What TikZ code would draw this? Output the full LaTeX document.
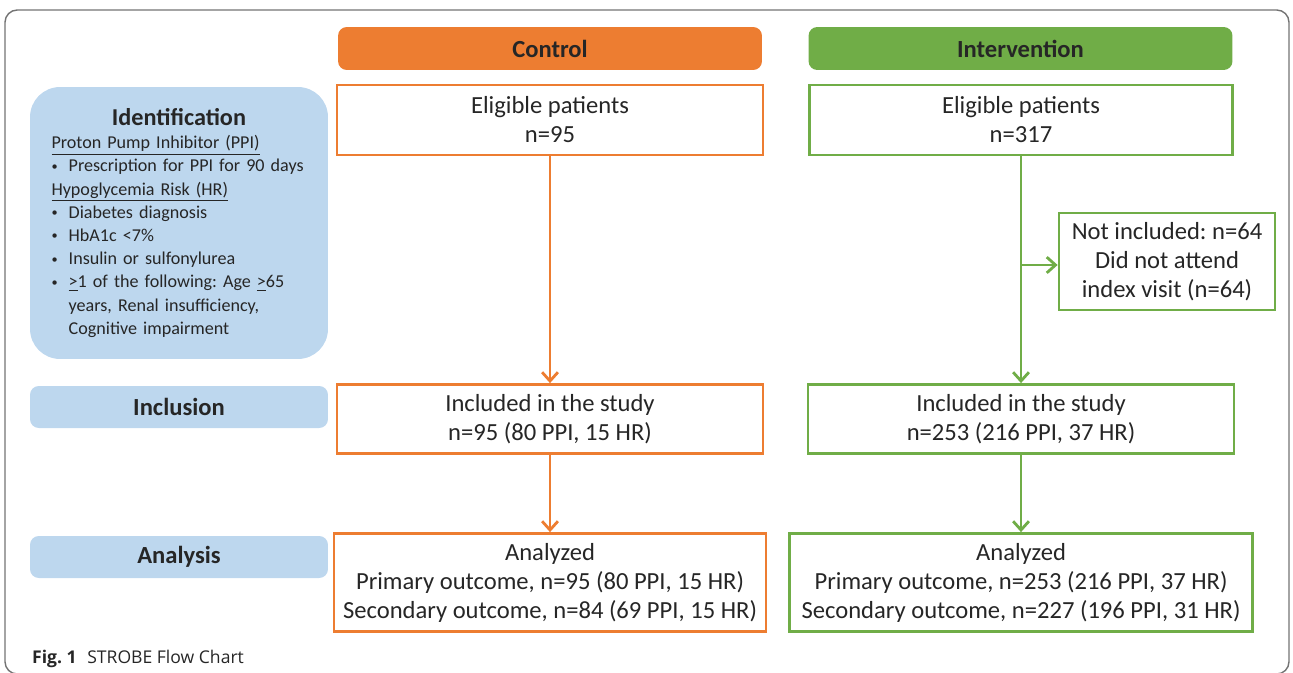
\documentclass[tikz,border=0pt]{standalone}
\usepackage{fontspec}
\setmainfont{Carlito}
\newfontfamily\capfont{Open Sans}
\usetikzlibrary{arrows.meta}
\definecolor{ctrlc}{HTML}{ED7D31}
\definecolor{intc}{HTML}{70AD47}
\definecolor{stagec}{HTML}{BDD7EE}
\frenchspacing
\newcommand{\idbul}{\makebox[0.95em][l]{\raisebox{0.2ex}{\fontsize{7}{7}\selectfont\textbullet}}}

\begin{document}
\begin{tikzpicture}[x=0.02cm,y=-0.02cm,
 txt/.style = {font=\fontsize{14}{16.5}\selectfont, text=black!85, align=center},
 ctrl/.style = {txt, draw=ctrlc, line width=1.6pt, fill=white},
 inter/.style = {txt, draw=intc, line width=1.6pt, fill=white},
 head/.style = {rounded corners=5pt, minimum width=8.48cm, minimum height=0.86cm, font=\fontsize{14}{16}\selectfont\bfseries, text=black!85},
 stage/.style = {fill=stagec, rounded corners=5pt, minimum width=5.96cm, minimum height=0.84cm, font=\fontsize{14}{16}\selectfont\bfseries, text=black!85},
 arr/.style = {line width=1.6pt, -{Straight Barb[length=5pt,width=9pt]}}]
\useasboundingbox (0,0) rectangle (1293,672);
\clip (0,0) rectangle (1293,672);
\draw[black!55, line width=0.8pt, rounded corners=7pt] (5,10) rectangle (1289,674);

\node[head, fill=ctrlc] (hc) at (550,48.5) {Control};
\node[head, fill=intc] (hi) at (1020.5,48.5) {Intervention};

\node[fill=stagec, rounded corners=0.6cm, minimum width=5.96cm, minimum height=5.44cm, text width=5.1cm, font=\fontsize{10.3}{13.2}\selectfont, text=black!85] (ident) at (179,223) {{\centering\fontsize{13.8}{16}\selectfont\bfseries Identification\par}
\raggedright
\underline{Proton Pump Inhibitor (PPI)}\\
\idbul Prescription for PPI for 90 days\\
\underline{Hypoglycemia Risk (HR)}\\
\idbul Diabetes diagnosis\\
\idbul HbA1c <7\%\\
\idbul Insulin or sulfonylurea\\
\idbul\underline{>}1 of the following: Age \underline{>}65\\
\hspace*{0.95em}years, Renal insufficiency,\\
\hspace*{0.95em}Cognitive impairment};
\node[stage] (incl) at (179,407) {Inclusion};
\node[stage] (anal) at (179,557) {Analysis};

\node[ctrl, minimum width=8.52cm, minimum height=1.4cm] (ce) at (550,120) {Eligible patients\\n=95};
\node[ctrl, minimum width=8.52cm, minimum height=1.38cm] (ci) at (550,419) {Included in the study\\n=95 (80 PPI, 15 HR)};
\node[ctrl, minimum width=8.64cm, minimum height=1.96cm] (ca) at (550,582.5) {Analyzed\\Primary outcome, n=95 (80 PPI, 15 HR)\\Secondary outcome, n=84 (69 PPI, 15 HR)};

\node[inter, minimum width=8.46cm, minimum height=1.4cm] (ie) at (1021,120) {Eligible patients\\n=317};
\node[inter, minimum width=4.32cm, minimum height=1.94cm] (ni) at (1167,261.5) {Not included: n=64\\Did not attend\\index visit (n=64)};
\node[inter, minimum width=8.52cm, minimum height=1.38cm] (ii) at (1021,419) {Included in the study\\n=253 (216 PPI, 37 HR)};
\node[inter, minimum width=9.26cm, minimum height=1.96cm] (ia) at (1021,582.5) {Analyzed\\Primary outcome, n=253 (216 PPI, 37 HR)\\Secondary outcome, n=227 (196 PPI, 31 HR)};

\draw[arr, ctrlc] (ce) -- (ci);
\draw[arr, ctrlc] (ci) -- (ca);
\draw[arr, intc] (ie) -- (ii);
\draw[arr, intc] (ii) -- (ia);
\coordinate (br) at (1021,265);
\draw[arr, intc] (br) -- (br -| ni.west);

\node[anchor=base west, font=\capfont\fontsize{10}{12}\selectfont, text=black!85] (cap) at (26,663) {\textbf{Fig. 1}\hspace{0.6em}STROBE Flow Chart};
\end{tikzpicture}
\end{document}
